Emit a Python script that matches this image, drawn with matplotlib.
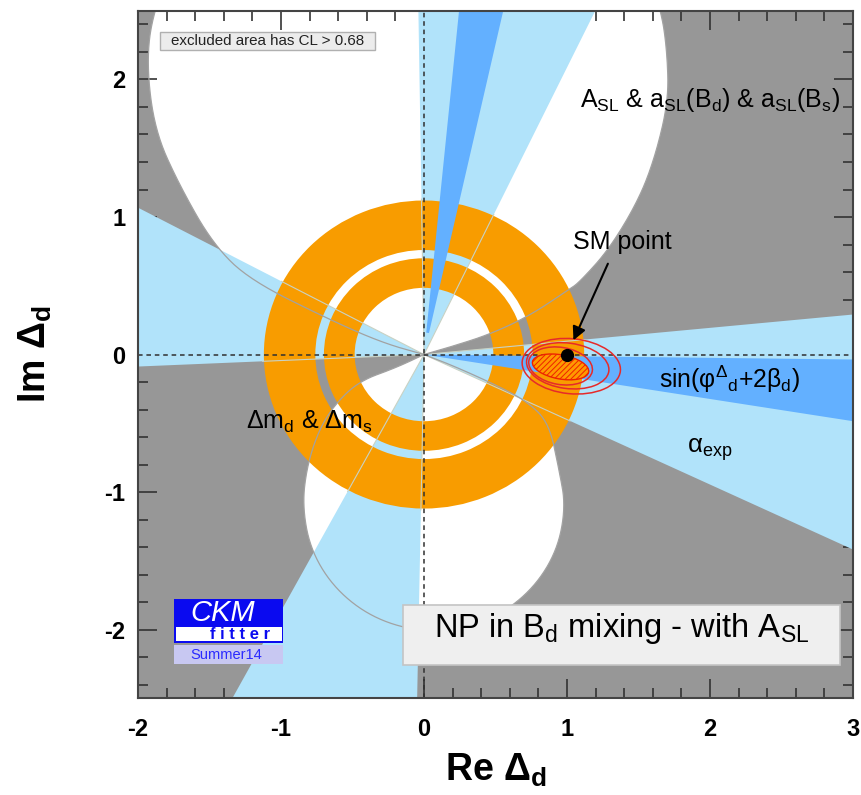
import numpy as np
import matplotlib
matplotlib.use("Agg")
import matplotlib.pyplot as plt
from matplotlib.patches import Polygon, Wedge, Ellipse, Rectangle

plt.rcParams['font.family'] = ['Liberation Sans', 'DejaVu Sans']
plt.rcParams['mathtext.fontset'] = 'custom'
plt.rcParams['mathtext.rm'] = 'Liberation Sans'
plt.rcParams['mathtext.it'] = 'Liberation Sans:italic'
plt.rcParams['mathtext.bf'] = 'Liberation Sans:bold'
plt.rcParams['axes.unicode_minus'] = False
plt.rcParams['hatch.linewidth'] = 0.7

# A_SL excluded regions (white), traced contours in the (Re, Im) plane
upper_x = [0, 0.2, 0.455, 0.734, 1.014, 1.084, 1.294, 1.503, 1.62, 1.71, 1.70, 1.66,
           1.5, 0.8, -0.11, -1.0, -1.7, -1.90, -1.94, -1.88, -1.71, -1.48, -1.224,
           -0.664, -0.29, 0]
upper_y = [0, 0.06, 0.145, 0.279, 0.473, 0.523, 0.764, 1.127, 1.45, 1.85, 2.2, 2.5,
           3.0, 3.6, 3.85, 3.6, 3.0, 2.48, 2.1, 1.62, 1.23, 0.81, 0.545,
           0.255, 0.085, 0]
lower_x = [0, 0.2, 0.5, 0.72, 0.874, 0.944, 0.99, 0.935, 0.775, 0.53, 0.23, -0.09,
           -0.39, -0.635, -0.795, -0.85, -0.82, -0.74, -0.63, -0.455, -0.198, 0]
lower_y = [0, -0.08, -0.22, -0.34, -0.497, -0.836, -1.1, -1.415, -1.69, -1.897, -2.006,
           -2.006, -1.897, -1.69, -1.415, -1.1, -0.82, -0.56, -0.37, -0.194, -0.097, 0]

# alpha_exp allowed wedges (degrees)
alpha_lo = [64.4, -118.2, -25.3, 151.9]
alpha_hi = [90.9, -91.1, 5.54, 182.5]

# sin(phi + 2 beta) allowed rays (degrees), start radius
sin_lo = [-9.18, 77.5]
sin_hi = [-0.69, 84.4]
sin_r0 = [0.0, 0.16]

# Delta m_d & Delta m_s rings: (inner, outer) radius
ring_in = [0.485, 0.76]
ring_out = [0.70, 1.12]

# global fit: hatched 68% area and contour lines (cx, cy, w, h, angle)
fit_area = (0.955, -0.09, 0.40, 0.175, -11)
cont_cx = [0.955, 1.005, 1.03]
cont_cy = [-0.083, -0.082, -0.085]
cont_w = [0.45, 0.58, 0.69]
cont_h = [0.27, 0.33, 0.40]
cont_ang = [-10, -8, -6]

sm_point = (1.0, 0.0)

GREY = '#979797'
LBLUE = '#b1e3fa'
DBLUE = '#63b0ff'
ORANGE = '#f89c00'


def smooth(x, y, n=4):
    p = np.column_stack([x, y]).astype(float)
    for _ in range(n):
        q = 0.75 * p[:-1] + 0.25 * p[1:]
        r = 0.25 * p[:-1] + 0.75 * p[1:]
        mid = np.empty((2 * len(q), 2))
        mid[0::2] = q
        mid[1::2] = r
        p = np.vstack([p[:1], mid, p[-1:]])
    return p


fig = plt.figure(figsize=(8.61, 7.95), dpi=100)
ax = fig.add_axes([0.1603, 0.1216, 0.8304, 0.8649])
ax.set_facecolor(GREY)
ax.set_xlim(-2, 3)
ax.set_ylim(-2.5, 2.5)

up = smooth(upper_x, upper_y)
lo = smooth(lower_x, lower_y)
ax.add_patch(Polygon(up, closed=True, facecolor='white', edgecolor='none', zorder=1))
ax.add_patch(Polygon(lo, closed=True, facecolor='white', edgecolor='none', zorder=1))

for a1, a2 in zip(alpha_lo, alpha_hi):
    ax.add_patch(Wedge((0, 0), 8, a1, a2, facecolor=LBLUE, edgecolor='none', zorder=2))

for r1, r2 in zip(ring_in, ring_out):
    ax.add_patch(Wedge((0, 0), r2, 0, 360, width=r2 - r1, facecolor=ORANGE,
                       edgecolor='none', zorder=3))

for a1, a2, r0 in zip(sin_lo, sin_hi, sin_r0):
    ax.add_patch(Wedge((0, 0), 8, a1, a2, width=8 - r0, facecolor=DBLUE,
                       edgecolor='none', zorder=4))

# thin outlines crossing the rings
for a in alpha_lo + alpha_hi:
    t = np.radians(a)
    ax.plot([0, 1.13 * np.cos(t)], [0, 1.13 * np.sin(t)], color='#c9d2c4', lw=0.8, zorder=5)
ax.plot(up[:, 0], up[:, 1], color='#a2a2a2', lw=0.9, zorder=5)
ax.plot(lo[:, 0], lo[:, 1], color='#a2a2a2', lw=0.9, zorder=5)

ax.axhline(0, color='#303030', lw=1.1, ls=(0, (3, 2.5)), zorder=6)
ax.axvline(0, color='#303030', lw=1.1, ls=(0, (3, 2.5)), zorder=6)

cx, cy, w, h, ang = fit_area
ax.add_patch(Ellipse((cx, cy), w, h, angle=ang, facecolor='#ff9a00', edgecolor='#ee2200',
                     hatch='//////', lw=1.0, zorder=7))
for i in range(3):
    ax.add_patch(Ellipse((cont_cx[i], cont_cy[i]), cont_w[i], cont_h[i], angle=cont_ang[i],
                         fill=False, edgecolor='#e62a2a', lw=1.1, zorder=7))
ax.plot(*sm_point, 'o', color='black', ms=8.5, zorder=8)
ax.annotate('', xy=(1.037, 0.085), xytext=(1.294, 0.679),
            arrowprops=dict(arrowstyle='-|>', color='black', lw=1.5, mutation_scale=20),
            zorder=9)

ax.text(1.39, 0.82, 'SM point', fontsize=18, ha='center', va='center', zorder=9)
ax.text(1.09, 1.85, r'A$_{\rm SL}$ & a$_{\rm SL}$(B$_{\rm d}$) & a$_{\rm SL}$(B$_{\rm s}$)',
        fontsize=18, ha='left', va='center', zorder=9)
ax.text(1.643, -0.18, r'sin(φ$^{\Delta}{}_{\rm d}$+2β$_{\rm d}$)', fontsize=17.8,
        ha='left', va='center', zorder=9)
ax.text(1.84, -0.69, r'α$_{\rm exp}$', fontsize=18.5, ha='left', va='center', zorder=9)
ax.text(-1.245, -0.49, r'Δm$_{\rm d}$ & Δm$_{\rm s}$', fontsize=18, ha='left',
        va='center', zorder=9)

# CL box
ax.add_patch(Rectangle((0.031, 0.943), 0.30, 0.026, transform=ax.transAxes,
                       facecolor='#ececec', edgecolor='#b0b0b0', lw=1, zorder=10))
ax.text(0.181, 0.956, 'excluded area has CL > 0.68', transform=ax.transAxes,
        fontsize=10.9, ha='center', va='center', color='#222222', zorder=11)

# title box
ax.add_patch(Rectangle((0.3706, 0.0484), 0.6112, 0.0873, transform=ax.transAxes,
                       facecolor='#efefef', edgecolor='#c4c4c4', lw=1.2, zorder=10))
ax.text(0.677, 0.089, r'NP in B$_{\rm d}$ mixing - with A$_{\rm SL}$', transform=ax.transAxes,
        fontsize=23.5, ha='center', va='baseline', zorder=11)

# CKMfitter logo
ax.add_patch(Rectangle((0.0503, 0.0804), 0.1525, 0.064, transform=ax.transAxes,
                       facecolor='#0a0af0', edgecolor='none', zorder=10))
ax.add_patch(Rectangle((0.0531, 0.0841), 0.1483, 0.0203, transform=ax.transAxes,
                       facecolor='white', edgecolor='none', zorder=11))
ax.add_patch(Rectangle((0.0503, 0.0499), 0.1525, 0.0276, transform=ax.transAxes,
                       facecolor='#c8c8f2', edgecolor='none', zorder=10))
ax.text(0.118, 0.1235, 'CKM', transform=ax.transAxes, fontsize=21, style='italic',
        color='white', ha='center', va='center', zorder=12)
ax.text(0.1434, 0.0925, 'f i t t e r', transform=ax.transAxes, fontsize=12,
        fontweight='bold', color='#0a0af0', ha='center', va='center', zorder=12)
ax.text(0.123, 0.0636, 'Summer14', transform=ax.transAxes, fontsize=10.5,
        color='#2a2aff', ha='center', va='center', zorder=12)

ax.set_xticks([-2, -1, 0, 1, 2, 3])
ax.set_yticks([-2, -1, 0, 1, 2])
ax.set_xticks(np.arange(-2, 3.01, 0.2), minor=True)
ax.set_yticks(np.arange(-2.4, 2.41, 0.2), minor=True)
ax.tick_params(which='both', direction='in', top=True, right=True, width=1.2,
               colors='#333333', labelcolor='black', labelsize=17, zorder=12)
ax.tick_params(which='major', length=14)
ax.tick_params(which='minor', length=7)
ax.tick_params(axis='x', pad=14)
ax.tick_params(axis='y', pad=9)
for lab in ax.get_xticklabels() + ax.get_yticklabels():
    lab.set_fontweight('bold')
for s in ax.spines.values():
    s.set_linewidth(1.5)
    s.set_color('#444444')
    s.set_zorder(13)

ax.set_xlabel(r'Re Δ$_{\bf d}$', fontsize=27, fontweight='bold', labelpad=8)
ax.set_ylabel(r'Im Δ$_{\bf d}$', fontsize=27, fontweight='bold', labelpad=36)

fig.savefig('out.png', dpi=100)
